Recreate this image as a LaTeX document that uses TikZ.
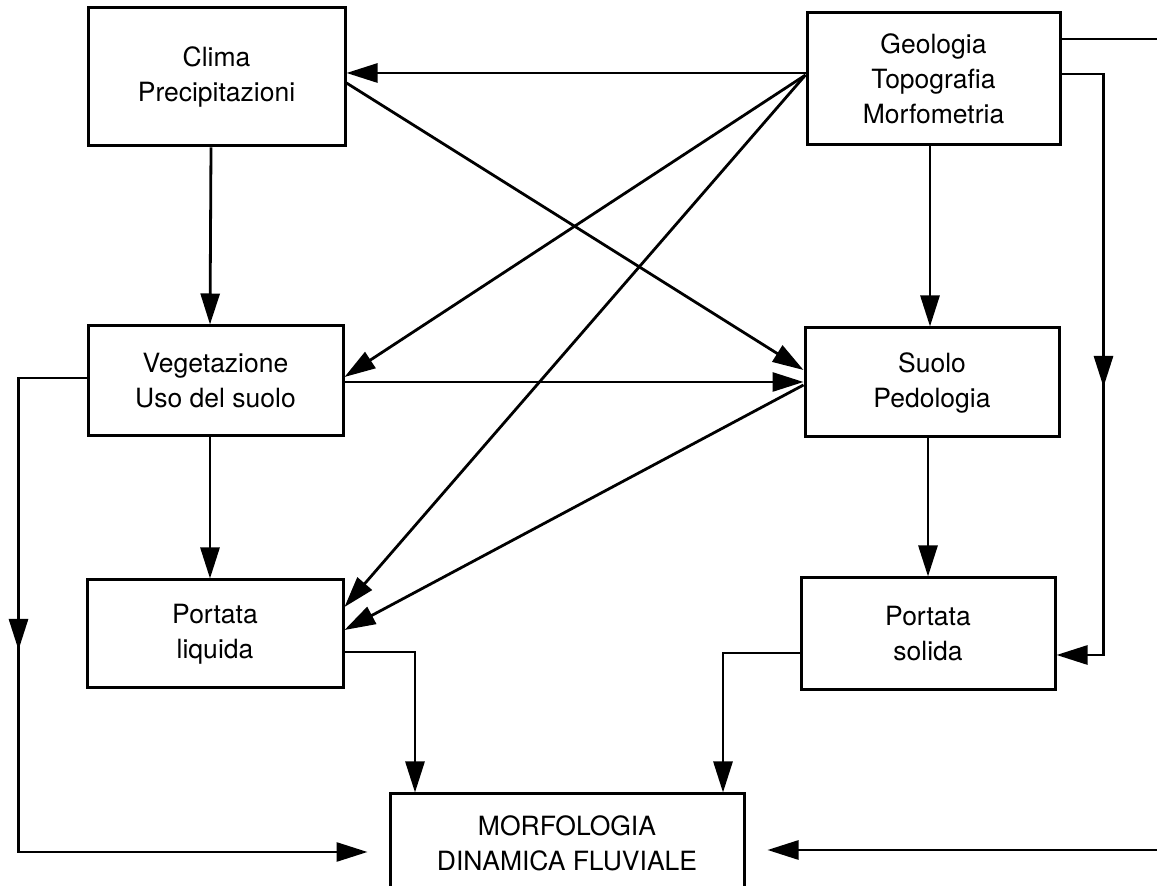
\documentclass[tikz,border=0pt]{standalone}
\usepackage{fontspec}
\setmainfont{TeX Gyre Heros}
\usetikzlibrary{arrows.meta,calc,decorations.markings}
\begin{document}
\begin{tikzpicture}[x=1pt,y=1pt,
  box/.style={draw, line width=3pt, inner sep=0pt, align=center,
              font=\fontsize{26.5}{35}\selectfont},
  tip/.style={-{Triangle[length=31pt,width=19pt]}},
  conn/.style={line width=2.8pt, tip},
  midarrow/.style={postaction={decorate},
    decoration={markings, mark=at position #1 with {\arrow{Triangle[length=31pt,width=19pt]}}}},
]
\useasboundingbox (0,0) rectangle (1157,886);

% boxes
\node[box, minimum width=257pt, minimum height=138pt] (clima) at (216.5,809) {Clima\\Precipitazioni};
\node[box, minimum width=253pt, minimum height=132pt] (geo) at (933.5,807) {Geologia\\Topografia\\Morfometria};
\node[box, minimum width=255pt, minimum height=110pt] (veg) at (215.5,505) {Vegetazione\\Uso del suolo};
\node[box, minimum width=254pt, minimum height=109pt] (suolo) at (932,503.5) {Suolo\\Pedologia};
\node[box, minimum width=256pt, minimum height=108pt] (pliq) at (215,252) {Portata\\liquida};
\node[box, minimum width=254pt, minimum height=112pt] (psol) at (928,252) {Portata\\solida};
\node[box, minimum width=354pt, minimum height=98pt] (morf) at (567,43) {MORFOLOGIA\\DINAMICA FLUVIALE};

% diagonal and horizontal links
\draw[conn] ($(geo.west)+(0,6)$) -- ($(clima.east)+(0,4)$);
\draw[conn] ($(geo.west)+(0,4)$) -- ($(veg.east)+(0,4)$);
\draw[conn] ($(geo.west)+(0,4)$) -- ($(pliq.east)+(0,27)$);
\draw[conn] ($(clima.east)+(0,-6)$) -- ($(suolo.west)+(0,12.5)$);
\draw[conn] ($(veg.east)+(0,-1)$) -- ($(suolo.west)+(0,0.5)$);
\draw[conn] ($(suolo.west)+(0,-2.5)$) -- ($(pliq.east)+(0,4)$);

% vertical links
\draw[conn] ($(clima.south)+(-5.5,0)$) -- ($(veg.north)+(-5.5,0)$);
\draw[conn] ($(geo.south)+(-3.5,0)$) -- ($(suolo.north)+(-2,0)$);
\draw[conn] ($(veg.south)+(-5.5,0)$) -- ($(pliq.north)+(-5,0)$);
\draw[conn] ($(suolo.south)+(-4,0)$) -- ($(psol.north)+(0,0)$);

% discharges into the river morphology box
\draw[conn] ($(pliq.east)+(0,-18)$) -| ($(morf.north)+(-152,0)$);
\draw[conn] ($(psol.west)+(0,-19)$) -| ($(morf.north)+(156,0)$);

% outer loops
\draw[conn, shorten >=21pt, midarrow=340pt]
  ($(veg.west)+(0,3)$) -- ++(-68,0) |- ($(morf.west)+(0,-9)$);
\draw[conn, midarrow=355pt]
  ($(geo.east)+(0,5)$) -- ++(42,0) |- ($(psol.east)+(0,-21)$);
\draw[conn, shorten >=22pt]
  ($(geo.east)+(0,40)$) -- ++(115,0) |- ($(morf.east)+(0,-7)$);
\end{tikzpicture}
\end{document}
